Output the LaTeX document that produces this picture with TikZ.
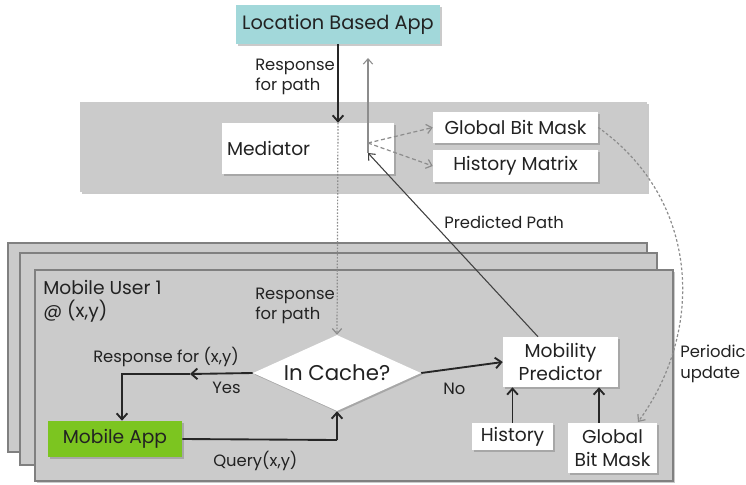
\documentclass[tikz,border=0pt]{standalone}
\usepackage{fontspec}
\setmainfont{Poppins}
\usetikzlibrary{shapes.geometric,arrows.meta,shadows}
\definecolor{band}{HTML}{CBCBCB}
\definecolor{panelline}{HTML}{808080}
\definecolor{teal}{HTML}{A2D8DA}
\definecolor{appgreen}{HTML}{7CC520}
\definecolor{txt}{HTML}{222222}
\begin{document}
\begin{tikzpicture}[x=0.75pt,y=-0.75pt,
  font=\fontsize{14}{17.5}\selectfont, text=txt,
  shd/.style={drop shadow={shadow xshift=1.2pt,shadow yshift=-1.2pt,opacity=0.35,fill=black!60}},
  wbox/.style={draw=none,fill=white,shd,inner sep=0pt,align=center},
  panel/.style={draw=panelline,line width=1.1pt,fill=band},
  lbl/.style={font=\fontsize{12.3}{15.5}\selectfont,align=left,inner sep=0pt,anchor=west},
  blk/.style={line width=1.4pt,black!85,-{Straight Barb[length=4.5pt,width=8pt]}},
  thin/.style={line width=0.8pt,black!75,-{Straight Barb[length=4pt,width=7pt]}},
  gdash/.style={line width=0.9pt,black!45,dashed,dash pattern=on 3pt off 2pt,-{Straight Barb[length=4pt,width=7pt]}},
  gdot/.style={line width=0.9pt,black!45,dash pattern=on 1.2pt off 1.2pt,-{Straight Barb[length=4pt,width=7pt]}},
]
\useasboundingbox (0,0) rectangle (746,485);
% top band
\fill[band,shd] (80,102) rectangle (647,192);
% stacked panels
\draw[panel] (8,243) rectangle (647,452);
\draw[panel] (20,253) rectangle (657,465);
\draw[panel,shd] (35,270) rectangle (673,481);

% nodes
\node[wbox,fill=teal,minimum width=204*0.75pt,minimum height=39*0.75pt,font=\fontsize{14.5}{17}\selectfont] (lba) at (338,24.5) {Location Based App};
\node[wbox,minimum width=172*0.75pt,minimum height=51*0.75pt,text width=162*0.75pt,align=left] (med) at (308,148.5) {Mediator};
\node[wbox,minimum width=165*0.75pt,minimum height=31*0.75pt] (gbm) at (515.5,127.5) {Global Bit Mask};
\node[wbox,minimum width=165*0.75pt,minimum height=32*0.75pt] (hm) at (515.5,166) {History Matrix};

\node[anchor=north west,align=left,inner sep=0pt] (user) at (43,280) {Mobile User 1\\@ (x,y)};
\node[wbox,shape=diamond,minimum width=168*0.75pt,minimum height=76*0.75pt,font=\fontsize{16}{19}\selectfont] (dia) at (337,373) {\makebox[0pt]{In Cache?}};
\node[wbox,fill=appgreen,minimum width=134*0.75pt,minimum height=36*0.75pt] (app) at (115,439) {Mobile App};
\node[wbox,minimum width=115*0.75pt,minimum height=50*0.75pt] (mp) at (560.5,362) {Mobility\\Predictor};
\node[wbox,minimum width=81*0.75pt,minimum height=27*0.75pt] (hist) at (512.5,436.5) {History};
\node[wbox,minimum width=89*0.75pt,minimum height=50*0.75pt] (sgbm) at (612.5,448) {Global\\Bit Mask};

% coordinates
\coordinate (hub) at (368,143);
\coordinate (predend) at (368,153);
\coordinate (uptop) at (368,58);
\coordinate (yesmid) at (190,374);
\coordinate (yescorner) at (122,374);
\coordinate (qcorner) at (337,440);
\coordinate (pucurve) at (638,422);

% connectors
\draw[blk] (lba.south) -- (lba.south |- med.north);
\draw[gdot] (lba.south |- med.north) -- (dia.north);
\draw[line width=0.8pt,black!45,-{Straight Barb[length=4pt,width=7pt]}] (predend) -- (uptop);
\draw[gdash] (hub) -- (gbm.west);
\draw[gdash] (hub) -- (hm.west);
\draw[thin] (mp.north -| 538,0) -- (predend);
\draw[gdash,dash pattern=on 2pt off 1.6pt] (gbm.east) .. controls (700,200) and (705,330) .. (pucurve);
\draw[blk] (dia.west) -- (yesmid);
\draw[blk] (yesmid) -- (yescorner) -- (app.north -| yescorner);
\draw[blk,-] (app.east) -- (qcorner);
\draw[blk] (qcorner) -- (dia.south);
\draw[blk] (dia.east) -- (mp.west);
\draw[blk] (hist.north) -- (hist.north |- mp.south);
\draw[blk] (sgbm.north -| 599,0) -- (mp.south -| 599,0);

% labels
\node[lbl] (l1) at (255,77) {Response\\for path};
\node[lbl] (l2) at (255,306) {Response\\for path};
\node[lbl] (l3) at (93,357) {Response for (x,y)};
\node[lbl] (l4) at (212,388) {Yes};
\node[lbl] (l5) at (213,461) {Query(x,y)};
\node[lbl] (l6) at (443,389) {No};
\node[lbl] (l7) at (444,222) {Predicted Path};
\node[lbl] (l8) at (680,364) {Periodic\\update};
\end{tikzpicture}
\end{document}
